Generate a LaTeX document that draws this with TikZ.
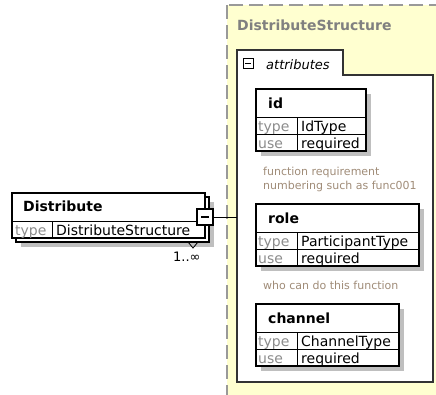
\documentclass[tikz,border=0pt]{standalone}
\usepackage{fontspec}
\setmainfont{DejaVu Sans}
\usepackage{tikz}
\usetikzlibrary{positioning}
\definecolor{notecol}{RGB}{160,140,120}
\definecolor{yellowbg}{RGB}{255,255,208}
\tikzstyle{shade} = [fill=black!25, draw=none]
\tikzstyle{boxframe} = [draw=black, line width=1.1pt, fill=white]
\tikzstyle{rowline} = [draw=black, line width=0.7pt]
\tikzstyle{elname} = [font=\fontsize{14}{16}\selectfont\bfseries, anchor=base west, inner sep=0pt]
\tikzstyle{attrkey} = [font=\fontsize{14}{16}\selectfont, text=black!45, anchor=base west, inner sep=0pt]
\tikzstyle{attrval} = [font=\fontsize{14}{16}\selectfont, anchor=base west, inner sep=0pt]
\tikzstyle{note} = [font=\fontsize{11}{14}\selectfont, text=notecol, anchor=base west, inner sep=0pt, align=left]
\tikzstyle{minusbox} = [draw=black, line width=1.3pt, fill=white, minimum size=#1, inner sep=0pt]

\begin{document}
\begin{tikzpicture}[x=1pt, y=-1pt]
    \useasboundingbox (0,0) rectangle (436,394);
    \clip (0,0) rectangle (436,394);

    % 复杂类型的虚线框
    \draw[fill=yellowbg, draw=black!40, line width=1.4pt, dash pattern=on 14pt off 6pt] (227,5) rectangle (460,420);
    \node[elname, text=black!50] (ctype) at (237,30) {DistributeStructure};

    % attributes 面板
    \draw[draw=black!80, line width=1.1pt, fill=white] (237,382) -- (237,50) -- (343,50) -- (343,75) -- (433,75) -- (433,382) -- cycle;
    \node[minusbox=10pt, line width=1pt] (amin) at (248,63) {};
    \draw[line width=1pt] ([xshift=-3pt]amin.center) -- ([xshift=3pt]amin.center);
    \node[font=\fontsize{13}{15}\selectfont\itshape, anchor=base west, inner sep=0pt] (attrs) at (266,69) {attributes};

    % 属性 id
    \fill[shade] (261,94) rectangle (371,156);
    \draw[boxframe] (256,89) rectangle (366,151);
    \draw[rowline] (256,117) -- (366,117) (256,134) -- (366,134) (297,117) -- (297,151);
    \node[elname] (idname) at (268,108) {id};
    \node[attrkey] (idtk) at (258,131) {type};
    \node[attrval] (idtv) at (301,131) {IdType};
    \node[attrkey] (iduk) at (258,148) {use};
    \node[attrval] (iduv) at (301,148) {required};
    \node[note] (idnote) at (263,189) {function requirement\\numbering such as func001};

    % 属性 role
    \fill[shade] (261,209) rectangle (424,271);
    \draw[boxframe] (256,204) rectangle (419,266);
    \draw[rowline] (256,232) -- (419,232) (256,249) -- (419,249) (297,232) -- (297,266);
    \node[elname] (rolename) at (268,223) {role};
    \node[attrkey] (roletk) at (258,246) {type};
    \node[attrval] (roletv) at (301,246) {ParticipantType};
    \node[attrkey] (roleuk) at (258,263) {use};
    \node[attrval] (roleuv) at (301,263) {required};
    \node[note] (rolenote) at (263,289) {who can do this function};

    % 属性 channel
    \fill[shade] (261,309) rectangle (404,371);
    \draw[boxframe] (256,304) rectangle (399,366);
    \draw[rowline] (256,332) -- (399,332) (256,349) -- (399,349) (297,332) -- (297,366);
    \node[elname] (chname) at (268,323) {channel};
    \node[attrkey] (chtk) at (258,346) {type};
    \node[attrval] (chtv) at (301,346) {ChannelType};
    \node[attrkey] (chuk) at (258,363) {use};
    \node[attrval] (chuv) at (301,363) {required};

    % 元素 Distribute (1..∞ 叠放)
    \fill[shade] (21,202) rectangle (214,247);
    \draw[boxframe] (16,197) rectangle (209,242);
    \draw[boxframe] (12,193) rectangle (205,238);
    \draw[rowline] (12,221) -- (205,221) (52,221) -- (52,238);
    \node[elname] (dname) at (23,211) {Distribute};
    \node[attrkey] (dtk) at (15,235) {type};
    \node[attrval] (dtv) at (56,235) {DistributeStructure};
    \draw[line width=0.8pt] (188,242) -- (193,248) -- (198,242);
    \node[font=\fontsize{13}{15}\selectfont, anchor=base west, inner sep=0pt] (dmult) at (173,261) {1..∞};

    % 连接线
    \node[minusbox=16pt] (dmin) at (205,217) {};
    \draw[line width=1.4pt] ([xshift=-4pt]dmin.center) -- ([xshift=4pt]dmin.center);
    \coordinate (attrin) at (237,217);
    \draw[line width=1pt] (dmin) -- (attrin);
\end{tikzpicture}
\end{document}
